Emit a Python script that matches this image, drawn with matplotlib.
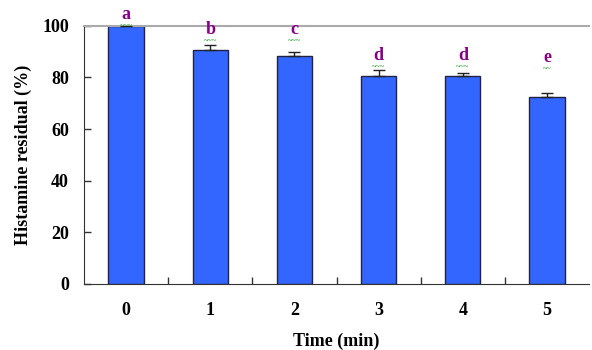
import matplotlib.pyplot as plt

times = ['0', '1', '2', '3', '4', '5']
residual = [100.0, 90.7, 88.4, 80.7, 80.5, 72.4]
errors = [0.4, 1.8, 1.4, 2.2, 1.3, 1.5]
letters = ['a', 'b', 'c', 'd', 'd', 'e']
letter_y = [102.8, 96.8, 96.8, 86.8, 86.8, 86.1]

plt.rcParams['font.family'] = ['Liberation Serif', 'DejaVu Serif']
plt.rcParams['font.weight'] = 'bold'

fig = plt.figure(figsize=(5.92, 3.5), dpi=100)
ax = fig.add_axes([0.142, 0.189, 0.853, 0.737])

x = range(len(times))
ax.bar(x, residual, width=0.42, color='#3366ff', edgecolor='#222244', linewidth=1.0, zorder=2)
ax.errorbar(x, residual, yerr=[[0] * len(errors), errors], fmt='none',
            ecolor='#222222', elinewidth=1.0, capsize=4, capthick=1.0, zorder=3)

for i, (lab, ly) in enumerate(zip(letters, letter_y)):
    ax.text(i, ly, lab, ha='center', va='baseline', color='#880088',
            fontsize=13, fontweight='bold', clip_on=False)
    ax.text(i, ly - 1.3, '~~~' if lab != 'e' else '~~', ha='center', va='top',
            color='#44aa44', fontsize=6, clip_on=False)

ax.set_xlim(-0.5, 5.5)
ax.set_ylim(0, 100)
ax.set_yticks([0, 20, 40, 60, 80, 100])
ax.set_xticks(x)
ax.set_xticklabels(times)
ax.set_xticks([i + 0.5 for i in range(5)], minor=True)
ax.tick_params(axis='x', which='major', length=0, pad=13, labelsize=13)
ax.tick_params(axis='x', which='minor', direction='in', length=5, width=1, color='#333333')
ax.tick_params(axis='y', direction='in', length=5, width=1, color='#333333', pad=11, labelsize=13)

ax.spines['right'].set_visible(False)
ax.spines['top'].set_color('#aaaaaa')
ax.spines['top'].set_linewidth(1.5)
ax.spines['left'].set_color('#333333')
ax.spines['bottom'].set_color('#333333')

ax.set_xlabel('Time (min)', fontsize=13, fontweight='bold', labelpad=10)
ax.set_ylabel('Histamine residual (%)', fontsize=13, fontweight='bold', labelpad=7)

fig.savefig('out.png', dpi=100)
